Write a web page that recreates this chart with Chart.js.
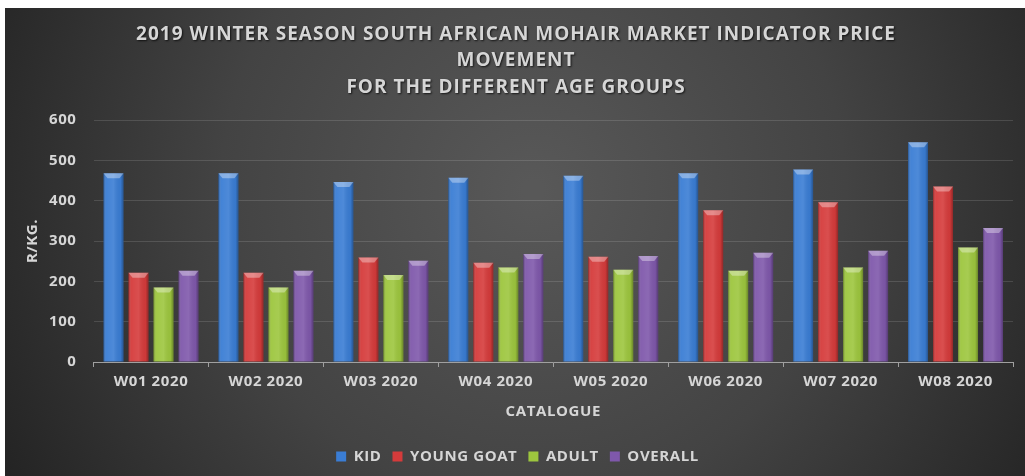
<!DOCTYPE html>
<html>
<head>
<meta charset="utf-8">
<script src="https://cdn.jsdelivr.net/npm/chart.js@4.4.1/dist/chart.umd.min.js"></script>
<style>
html,body{margin:0;padding:0;background:#fff;}
#wrap{width:1025px;height:476px;}
</style>
</head>
<body>
<div id="wrap"><canvas id="c" width="1025" height="476"></canvas></div>
<script>
const categories = ['W01 2020','W02 2020','W03 2020','W04 2020','W05 2020','W06 2020','W07 2020','W08 2020'];
const kid        = [468, 468, 446, 457, 462, 468, 477, 545];
const youngGoat  = [221, 221, 259, 246, 261, 376, 396, 435];
const adult      = [185, 185, 216, 234, 229, 226, 234, 284];
const overall    = [226, 226, 251, 268, 263, 271, 276, 332];
const seriesNames = ['KID','YOUNG GOAT','ADULT','OVERALL'];
const seriesColors = ['#3a7dd4','#d53b3b','#9dc63e','#7f58ab'];
const titleLines = ['2019 WINTER SEASON SOUTH AFRICAN MOHAIR MARKET INDICATOR PRICE','MOVEMENT','FOR THE DIFFERENT AGE GROUPS'];
const yTitle = 'R/KG.';
const xTitle = 'CATALOGUE';

const FONT = "'Open Sans', 'DejaVu Sans', sans-serif";
const TXT = '#d6d6d6';

const bgPlugin = {
  id: 'bg',
  beforeUpdate(chart) { chart.ctx.letterSpacing = '0.6px'; },
  beforeDraw(chart) {
    const {ctx, width, height} = chart;
    ctx.letterSpacing = '0.6px';
    ctx.save();
    ctx.fillStyle = '#ffffff';
    ctx.fillRect(0, 0, width, height);
    const g = ctx.createRadialGradient(width * 0.52, height * 0.4, 10, width * 0.52, height * 0.4, width * 0.6);
    g.addColorStop(0, '#585858');
    g.addColorStop(0.5, '#434343');
    g.addColorStop(1, '#222222');
    ctx.fillStyle = g;
    ctx.fillRect(5, 8, width - 5, height - 8);
    ctx.restore();
  }
};

const titlePlugin = {
  id: 'customTitle',
  afterDraw(chart) {
    const ctx = chart.ctx;
    ctx.save();
    ctx.letterSpacing = '1px';
    ctx.font = "bold 19px " + FONT;
    ctx.textAlign = 'center';
    ctx.textBaseline = 'middle';
    ctx.fillStyle = TXT;
    ctx.shadowColor = 'rgba(0,0,0,0.7)';
    ctx.shadowOffsetX = 1;
    ctx.shadowOffsetY = 1;
    ctx.shadowBlur = 2;
    const ys = [34.5, 61, 88];
    titleLines.forEach((t, i) => ctx.fillText(t, 516, ys[i]));
    ctx.restore();
  }
};

const glossPlugin = {
  id: 'gloss',
  afterDatasetsDraw(chart) {
    const ctx = chart.ctx;
    ctx.save();
    chart.data.datasets.forEach((ds, i) => {
      const meta = chart.getDatasetMeta(i);
      meta.data.forEach(bar => {
        const {x, y, base, width} = bar.getProps(['x','y','base','width'], true);
        const left = x - width / 2, right = x + width / 2;
        const h = base - y;
        const g = ctx.createLinearGradient(left, 0, right, 0);
        g.addColorStop(0, 'rgba(0,0,0,0.30)');
        g.addColorStop(0.15, 'rgba(255,255,255,0.05)');
        g.addColorStop(0.5, 'rgba(255,255,255,0.10)');
        g.addColorStop(0.85, 'rgba(0,0,0,0.04)');
        g.addColorStop(1, 'rgba(0,0,0,0.32)');
        ctx.fillStyle = g;
        ctx.fillRect(left, y, width, h);
        const cap = Math.min(5, h);
        ctx.beginPath();
        ctx.moveTo(left, y);
        ctx.lineTo(right, y);
        ctx.lineTo(right - 4, y + cap);
        ctx.lineTo(left + 4, y + cap);
        ctx.closePath();
        ctx.fillStyle = 'rgba(255,255,255,0.35)';
        ctx.fill();
      });
    });
    ctx.restore();
  }
};

new Chart(document.getElementById('c'), {
  type: 'bar',
  data: {
    labels: categories,
    datasets: [kid, youngGoat, adult, overall].map((d, i) => ({
      label: seriesNames[i],
      data: d,
      backgroundColor: seriesColors[i],
      borderWidth: 0,
      categoryPercentage: 0.87,
      barPercentage: 0.8
    }))
  },
  options: {
    responsive: false,
    animation: false,
    devicePixelRatio: 1,
    layout: { padding: { top: 120, left: 22, right: 12, bottom: 2 } },
    plugins: {
      title: { display: false },
      legend: {
        position: 'bottom',
        labels: {
          color: TXT,
          boxWidth: 10,
          boxHeight: 10,
          padding: 11,
          font: { family: FONT, size: 15, weight: 'bold' }
        }
      },
      tooltip: { enabled: false }
    },
    scales: {
      x: {
        grid: { display: true, drawOnChartArea: false, color: '#a0a0a0', tickLength: 5, offset: true },
        border: { display: true, color: '#a0a0a0', width: 1 },
        ticks: { color: TXT, font: { family: FONT, size: 15, weight: 'bold' }, padding: 6 },
        title: { display: true, text: xTitle, color: TXT, font: { family: FONT, size: 15, weight: 'bold' }, padding: { top: 6, bottom: 17 } }
      },
      y: {
        min: 0, max: 600,
        afterFit(scale) { scale.width -= 18; },
        ticks: { stepSize: 100, color: TXT, font: { family: FONT, size: 15, weight: 'bold' }, padding: 17 },
        grid: { color: 'rgba(255,255,255,0.13)', drawTicks: false },
        border: { display: false },
        title: { display: true, text: yTitle, color: TXT, font: { family: FONT, size: 15, weight: 'bold' }, padding: { top: 2, bottom: 8 } }
      }
    }
  },
  plugins: [bgPlugin, titlePlugin, glossPlugin]
});
</script>
</body>
</html>
